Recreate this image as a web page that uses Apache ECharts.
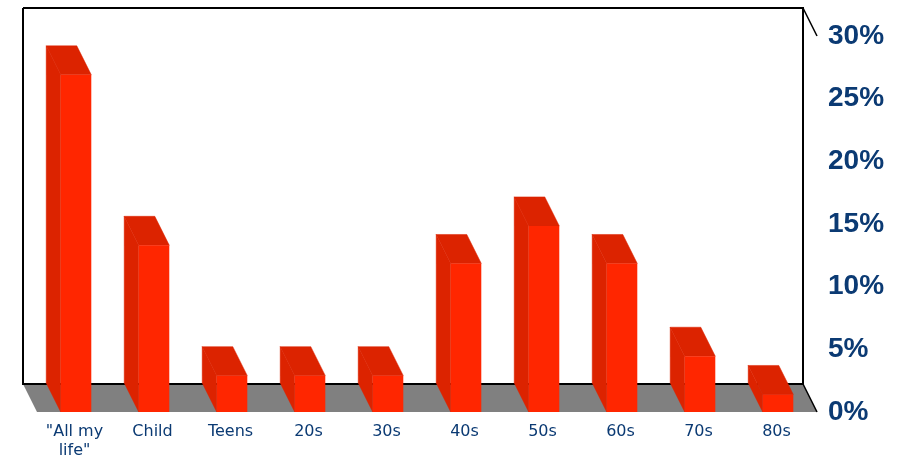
<!DOCTYPE html>
<html>
<head>
<meta charset="utf-8">
<style>html,body{margin:0;padding:0;background:#fff}#chart{width:915px;height:459px}</style>
<script src="https://cdn.jsdelivr.net/npm/echarts@6/dist/echarts.min.js"></script>
</head>
<body>
<div id="chart"></div>
<script>
const categories = ['"All my\nlife"', 'Child', 'Teens', '20s', '30s', '40s', '50s', '60s', '70s', '80s'];
const shareValues = [26.9, 13.3, 2.9, 2.9, 2.9, 11.85, 14.85, 11.85, 4.45, 1.4];
const axisMax = 30;
const axisStep = 5;

const DEPTH_X = 14.5;
const DEPTH_Y = 29;
const FRONT = '#ff2600';
const SHADE = '#dc2300';
const FLOOR = '#808080';

const chart = echarts.init(document.getElementById('chart'), null, { renderer: 'canvas' });

// Back wall and floor of the 3D box, derived from the plot rectangle.
function renderRoom(params) {
  const c = params.coordSys;
  const l = c.x, r = c.x + c.width, t = c.y, b = c.y + c.height;
  const dx = 14, dy = 28;
  const line = (pts, w, col) => ({
    type: 'polyline', shape: { points: pts },
    style: { fill: null, stroke: col, lineWidth: w }
  });
  return {
    type: 'group',
    children: [
      { type: 'polygon',
        shape: { points: [[l - dx, b - dy], [r - dx, b - dy], [r, b], [l, b]] },
        style: { fill: FLOOR } },
      line([[l - dx, t - dy], [r - dx, t - dy], [r - dx, b - dy], [l - dx, b - dy], [l - dx, t - dy]], 2, '#000'),
      line([[r - dx, t - dy], [r, t]], 1.5, '#000'),
      line([[r - dx, b - dy], [r, b]], 1.5, '#000')
    ]
  };
}

// One extruded column: side face, top face, then the front face.
function renderColumn(params, api) {
  const base = api.coord([api.value(0), 0]);
  const top = api.coord([api.value(0), api.value(1)]);
  const w = api.size([1, 0])[0] * 0.392;
  const x0 = base[0] - w / 2, x1 = base[0] + w / 2;
  const yT = top[1], yB = base[1];
  const shade = { fill: SHADE, stroke: SHADE, lineWidth: 0.5 };
  return {
    type: 'group',
    children: [
      { type: 'polygon',
        shape: { points: [[x0, yT], [x0 - DEPTH_X, yT - DEPTH_Y], [x0 - DEPTH_X, yB - DEPTH_Y], [x0, yB]] },
        style: shade },
      { type: 'polygon',
        shape: { points: [[x0, yT], [x1, yT], [x1 - DEPTH_X, yT - DEPTH_Y], [x0 - DEPTH_X, yT - DEPTH_Y]] },
        style: shade },
      { type: 'rect',
        shape: { x: x0, y: yT, width: w, height: yB - yT },
        style: { fill: FRONT } }
    ]
  };
}

chart.setOption({
  animation: false,
  backgroundColor: '#fff',
  grid: { left: 37, right: 98, top: 36, bottom: 47, outerBoundsMode: 'none' },
  xAxis: {
    type: 'category',
    data: categories,
    axisLine: { show: false },
    axisTick: { show: false },
    axisLabel: {
      interval: 0, margin: 10, color: '#0b3a73',
      fontFamily: 'DejaVu Sans', fontSize: 16, lineHeight: 19,
      padding: [0, 3, 0, 0]
    }
  },
  yAxis: {
    type: 'value',
    position: 'right',
    min: 0, max: axisMax, interval: axisStep,
    splitLine: { show: false },
    axisLine: { show: false },
    axisTick: { show: false },
    axisLabel: {
      margin: 11, color: '#0b3a73',
      fontFamily: 'Liberation Sans', fontWeight: 'bold', fontSize: 28,
      formatter: '{value}%'
    }
  },
  series: [
    { type: 'custom', silent: true, clip: false, z: 1, data: [0], renderItem: renderRoom },
    { type: 'custom', silent: true, clip: false, z: 2,
      data: shareValues.map((v, i) => [i, v]),
      encode: { x: 0, y: 1 },
      renderItem: renderColumn }
  ]
});
</script>
</body>
</html>
